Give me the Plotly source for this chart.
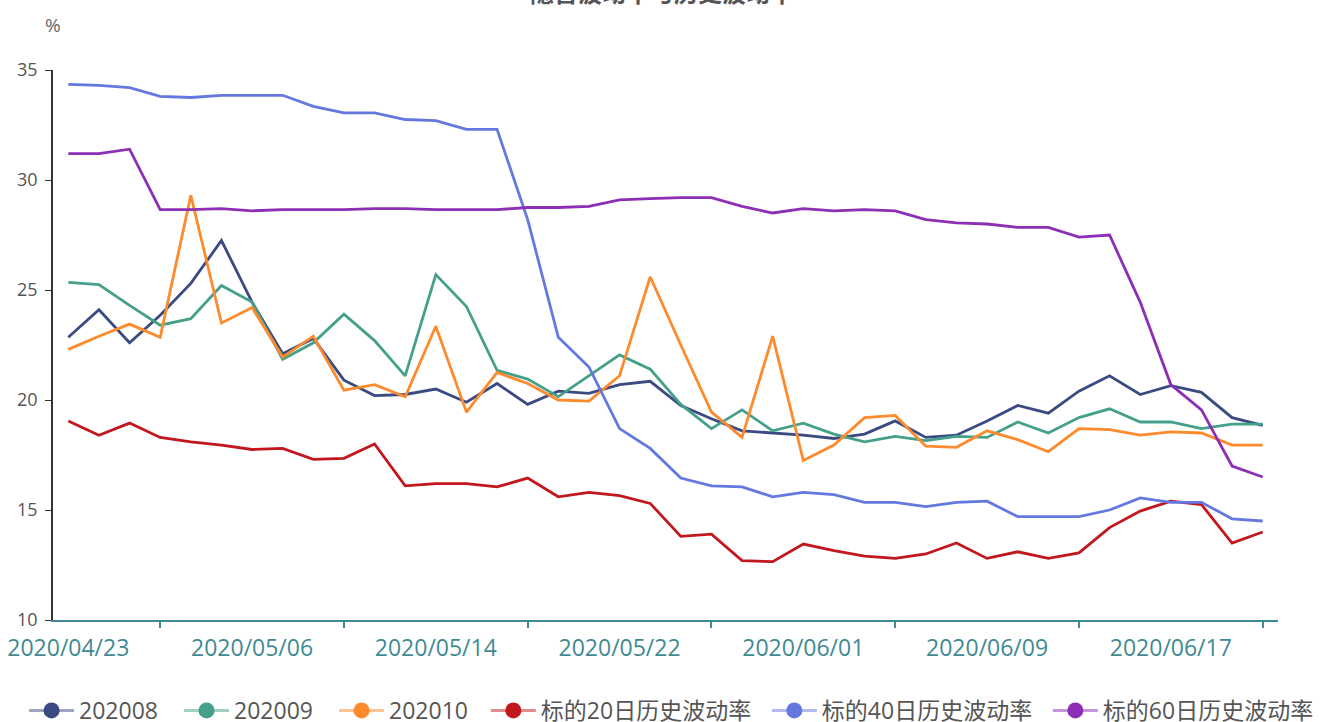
import plotly.graph_objects as go

dates = ["2020/04/23", "2020/04/24", "2020/04/27", "2020/04/28", "2020/04/29", "2020/04/30",
         "2020/05/06", "2020/05/07", "2020/05/08", "2020/05/11", "2020/05/12", "2020/05/13",
         "2020/05/14", "2020/05/15", "2020/05/18", "2020/05/19", "2020/05/20", "2020/05/21",
         "2020/05/22", "2020/05/25", "2020/05/26", "2020/05/27", "2020/05/28", "2020/05/29",
         "2020/06/01", "2020/06/02", "2020/06/03", "2020/06/04", "2020/06/05", "2020/06/08",
         "2020/06/09", "2020/06/10", "2020/06/11", "2020/06/12", "2020/06/15", "2020/06/16",
         "2020/06/17", "2020/06/18", "2020/06/19", "2020/06/22"]

s202008 = [22.85, 24.1, 22.6, 23.85, 25.3, 27.25, 24.45, 22.1, 22.8, 20.9,
           20.2, 20.25, 20.5, 19.9, 20.75, 19.8, 20.4, 20.3, 20.7, 20.85,
           19.75, 19.15, 18.6, 18.5, 18.4, 18.25, 18.45, 19.05, 18.3, 18.4,
           19.05, 19.75, 19.4, 20.4, 21.1, 20.25, 20.65, 20.35, 19.2, 18.85]
s202009 = [25.35, 25.25, 24.3, 23.4, 23.7, 25.2, 24.45, 21.85, 22.6, 23.9,
           22.7, 21.1, 25.7, 24.25, 21.35, 20.95, 20.15, 21.1, 22.05, 21.4,
           19.8, 18.7, 19.55, 18.6, 18.95, 18.45, 18.1, 18.35, 18.15, 18.35,
           18.3, 19.0, 18.5, 19.2, 19.6, 19.0, 19.0, 18.7, 18.9, 18.9]
s202010 = [22.3, 22.9, 23.45, 22.85, 29.3, 23.5, 24.2, 21.95, 22.9, 20.45,
           20.7, 20.15, 23.35, 19.45, 21.25, 20.75, 20.0, 19.95, 21.1, 25.6,
           22.5, 19.45, 18.3, 22.9, 17.25, 17.95, 19.2, 19.3, 17.9, 17.85,
           18.6, 18.2, 17.65, 18.7, 18.65, 18.4, 18.55, 18.5, 17.95, 17.95]
hv20 = [19.05, 18.4, 18.95, 18.3, 18.1, 17.95, 17.75, 17.8, 17.3, 17.35,
        18.0, 16.1, 16.2, 16.2, 16.05, 16.45, 15.6, 15.8, 15.65, 15.3,
        13.8, 13.9, 12.7, 12.65, 13.45, 13.15, 12.9, 12.8, 13.0, 13.5,
        12.8, 13.1, 12.8, 13.05, 14.2, 14.95, 15.4, 15.25, 13.5, 14.0]
hv40 = [34.35, 34.3, 34.2, 33.8, 33.75, 33.85, 33.85, 33.85, 33.35, 33.05,
        33.05, 32.75, 32.7, 32.3, 32.3, 28.2, 22.85, 21.5, 18.7, 17.8,
        16.45, 16.1, 16.05, 15.6, 15.8, 15.7, 15.35, 15.35, 15.15, 15.35,
        15.4, 14.7, 14.7, 14.7, 15.0, 15.55, 15.35, 15.35, 14.6, 14.5]
hv60 = [31.2, 31.2, 31.4, 28.65, 28.65, 28.7, 28.6, 28.65, 28.65, 28.65,
        28.7, 28.7, 28.65, 28.65, 28.65, 28.75, 28.75, 28.8, 29.1, 29.15,
        29.2, 29.2, 28.8, 28.5, 28.7, 28.6, 28.65, 28.6, 28.2, 28.05,
        28.0, 27.85, 27.85, 27.4, 27.5, 24.45, 20.7, 19.55, 17.0, 16.5]

series_names = ["202008", "202009", "202010", "标的20日历史波动率", "标的40日历史波动率", "标的60日历史波动率"]
series_values = [s202008, s202009, s202010, hv20, hv40, hv60]
colors = ["#3b4a80", "#45a08a", "#fd8a2d", "#c1171d", "#6478e0", "#8c2fb5"]
legend_line = ["rgba(59,74,128,0.5)", "rgba(69,160,138,0.5)", "rgba(253,138,45,0.5)",
               "rgba(193,23,29,0.5)", "rgba(100,120,224,0.5)", "rgba(140,47,181,0.5)"]
legend_ids = ["legend", "legend", "legend", "legend2", "legend2", "legend2"]

title_text = "隐含波动率与历史波动率"
y_unit = "%"
axis_teal = "#3f8a92"
FONT = "Open Sans, Noto Sans CJK SC, sans-serif"

fig = go.Figure()
for name, vals, col in zip(series_names, series_values, colors):
    fig.add_trace(go.Scatter(x=dates, y=vals, mode="lines", name=name,
                             line=dict(color=col, width=2.8), showlegend=False))
for name, col, lcol, lid in zip(series_names, colors, legend_line, legend_ids):
    fig.add_trace(go.Scatter(x=[None], y=[None], mode="lines+markers", name=name,
                             line=dict(color=lcol, width=3), legend=lid,
                             marker=dict(color=col, size=16), showlegend=True))

n = len(dates)
fig.add_trace(go.Scatter(x=[None], y=[None], xaxis="x2", showlegend=False, hoverinfo="skip"))

legend_common = dict(orientation="h", xref="container", yref="container",
                     yanchor="middle", xanchor="left", y=0.016, itemwidth=45,
                     font=dict(size=23, color="#555", family=FONT),
                     entrywidthmode="pixels", bgcolor="rgba(0,0,0,0)")

fig.update_layout(
    width=1322, height=722,
    margin=dict(l=53, r=44, t=70, b=102),
    paper_bgcolor="white", plot_bgcolor="white",
    font=dict(family=FONT, color="#555"),
    showlegend=True,
    legend=dict(**legend_common, x=0.0182, entrywidth=95),
    legend2=dict(**legend_common, x=0.3675, entrywidth=221),
    xaxis=dict(type="category", categoryorder="array", categoryarray=dates,
               range=[-0.5, n - 0.5], tickmode="array",
               tickvals=dates[::6], ticktext=dates[::6],
               showline=True, linecolor=axis_teal, linewidth=2,
               ticks="", showgrid=False, zeroline=False, automargin=False,
               ticklabelstandoff=6,
               tickfont=dict(size=23, color=axis_teal, family=FONT)),
    xaxis2=dict(overlaying="x", side="bottom", range=[-0.5, n - 0.5],
                tickmode="array", tickvals=list(range(3, n, 6)),
                ticks="outside", ticklen=7, tickwidth=2, tickcolor=axis_teal,
                showticklabels=False, showgrid=False, zeroline=False, showline=False),
    yaxis=dict(range=[10, 35], dtick=5, tick0=10, showline=True, linecolor="#333",
               linewidth=1.5, ticks="outside", ticklen=6, tickcolor="#333",
               showgrid=False, zeroline=False, ticklabelstandoff=4, automargin=False,
               tickfont=dict(size=18, color="#555", family=FONT)),
    annotations=[
        dict(text="<b>" + title_text + "</b>", xref="paper", yref="paper", x=0.497, y=1.142,
             xanchor="center", yanchor="middle", showarrow=False,
             font=dict(size=24, color="#555", family="Noto Sans CJK SC")),
        dict(text=y_unit, xref="paper", yref="paper", x=0.0, y=1.082,
             xanchor="center", yanchor="middle", showarrow=False,
             font=dict(size=19, color="#666", family=FONT)),
    ],
)

fig.write_html("out.html", config={"displayModeBar": False},
               post_script="document.body.style.margin='0';document.body.style.overflow='hidden';")
